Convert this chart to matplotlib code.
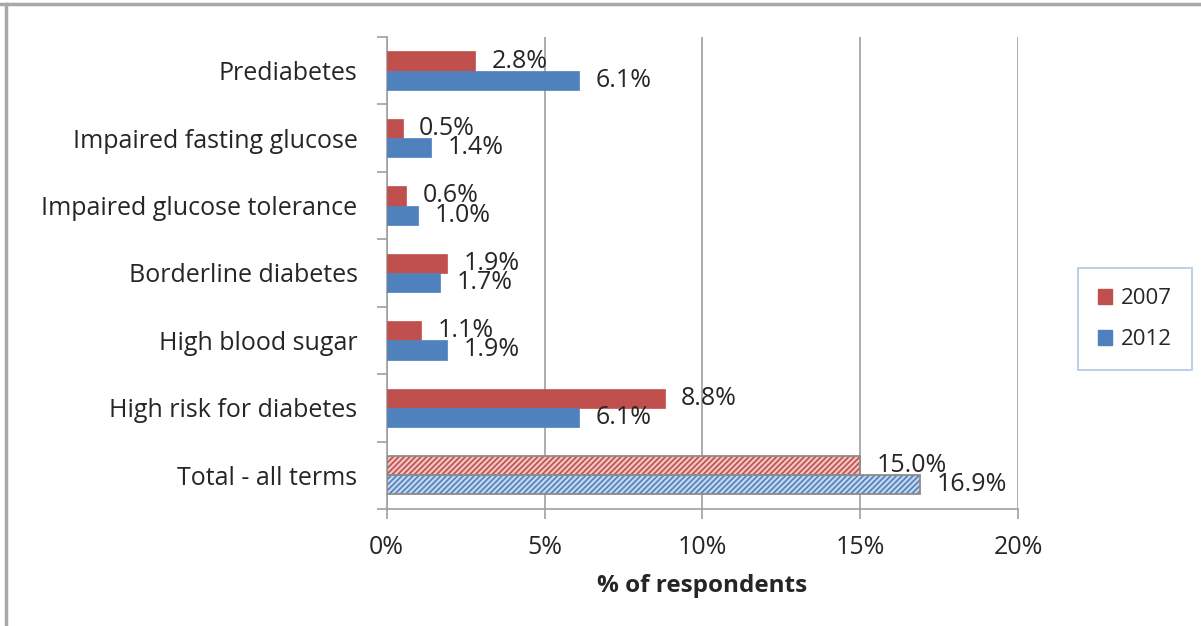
import numpy as np
import matplotlib
matplotlib.use("Agg")
from matplotlib import pyplot as plt
from matplotlib.lines import Line2D
from matplotlib.patches import Patch

plt.rcParams['font.family'] = ['Open Sans', 'DejaVu Sans']
plt.rcParams['hatch.linewidth'] = 1.2

categories = ["Prediabetes", "Impaired fasting glucose", "Impaired glucose tolerance",
              "Borderline diabetes", "High blood sugar", "High risk for diabetes",
              "Total - all terms"]
vals_2007 = [2.8, 0.5, 0.6, 1.9, 1.1, 8.8, 15.0]
vals_2012 = [6.1, 1.4, 1.0, 1.7, 1.9, 6.1, 16.9]
xticks = [0, 5, 10, 15, 20]

red = "#C0504D"
blue = "#4F81BD"
txt = "#262626"

fig = plt.figure(figsize=(12.01, 6.26), dpi=100)
ax = fig.add_axes([0.322, 0.187, 0.5257, 0.754])

y = np.arange(len(categories))
h = 0.285

for i in range(len(categories)):
    total = categories[i].startswith("Total")
    for v, off, col, light in [(vals_2007[i], -h / 2, red, "#F2C4C3"),
                               (vals_2012[i], h / 2, blue, "#C6D6EC")]:
        if total:
            ax.barh(y[i] + off, v, height=h, color=light, edgecolor=col,
                    hatch="//////", linewidth=0, zorder=3)
            ax.barh(y[i] + off, v, height=h, fill=False, edgecolor="#8c8c8c",
                    linewidth=1.3, zorder=4)
        else:
            ax.barh(y[i] + off, v, height=h, color=col, edgecolor=col,
                    linewidth=0.5, zorder=3)
        ax.annotate(f"{v:.1f}%", (v, y[i] + off), xytext=(12, 0),
                    textcoords="offset points", va="center", ha="left",
                    fontsize=18, color=txt, zorder=5)

ax.set_ylim(len(categories) - 0.5, -0.5)
ax.set_xlim(0, 20)
ax.set_xticks(xticks)
ax.set_xticklabels([f"{t}%" for t in xticks], fontsize=18, color=txt)
ax.set_yticks(y)
ax.set_yticklabels(categories, fontsize=18, color=txt)
ax.set_yticks(np.arange(len(categories) + 1) - 0.5, minor=True)
ax.tick_params(axis="y", which="major", length=0, pad=21)
ax.tick_params(axis="y", which="minor", length=7, color="#a0a0a0", width=1.2)
ax.tick_params(axis="x", length=7, color="#a0a0a0", width=1.2, pad=12)
ax.grid(axis="x", color="#a6a6a6", linewidth=1.3, zorder=0)
ax.set_xlabel("% of respondents", fontsize=17.5, fontweight="bold",
              labelpad=10, color=txt)

for s in ["top", "right"]:
    ax.spines[s].set_visible(False)
ax.spines["left"].set_color("#a0a0a0")
ax.spines["bottom"].set_color("#a0a0a0")
ax.spines["left"].set_linewidth(1.2)
ax.spines["bottom"].set_linewidth(1.2)

handles = [Patch(facecolor=red, edgecolor=red), Patch(facecolor=blue, edgecolor=blue)]
leg = fig.legend(handles, ["2007", "2012"], loc="center",
                 bbox_to_anchor=(0.945, 0.49), fontsize=16, frameon=True,
                 fancybox=False, handlelength=0.65, handleheight=0.65,
                 labelspacing=0.9, borderpad=0.9, handletextpad=0.4,
                 labelcolor=txt)
leg.get_frame().set_edgecolor("#A7BEDF")
leg.get_frame().set_linewidth(1.3)

# outer border lines
fig.add_artist(Line2D([0, 1], [0.994, 0.994], color="#a8a8a8", linewidth=2.5,
                      transform=fig.transFigure))
fig.add_artist(Line2D([0.005, 0.005], [0, 0.994], color="#a8a8a8", linewidth=2.5,
                      transform=fig.transFigure))

fig.savefig("out.png", dpi=100)
